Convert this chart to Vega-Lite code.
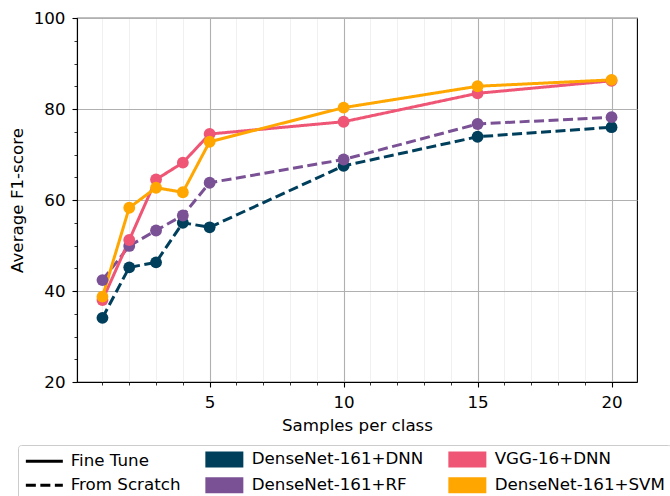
{
  "$schema": "https://vega.github.io/schema/vega-lite/v6.json",
  "width": 560,
  "height": 364,
  "autosize": {"type": "none"},
  "padding": {"left": 77, "top": 18, "right": 33, "bottom": 114},
  "background": "white",
  "config": {
    "font": "DejaVu Sans",
    "view": {"stroke": "black", "strokeWidth": 1.1},
    "axis": {
      "labelFont": "DejaVu Sans",
      "titleFont": "DejaVu Sans",
      "labelFontSize": 16.7,
      "titleFontSize": 16.7,
      "labelColor": "black",
      "titleColor": "black",
      "titleFontWeight": "normal",
      "domainColor": "black",
      "domainWidth": 1.1,
      "tickColor": "black",
      "labelPadding": 7,
      "titlePadding": 7,
      "labelFlush": false,
      "labelOverlap": false
    }
  },
  "data": {
    "values": [
      {"model": "DenseNet-161+DNN", "training": "From Scratch", "samples": 1, "f1": 34.1},
      {"model": "DenseNet-161+DNN", "training": "From Scratch", "samples": 2, "f1": 45.2},
      {"model": "DenseNet-161+DNN", "training": "From Scratch", "samples": 3, "f1": 46.3},
      {"model": "DenseNet-161+DNN", "training": "From Scratch", "samples": 4, "f1": 55.0},
      {"model": "DenseNet-161+DNN", "training": "From Scratch", "samples": 5, "f1": 54.0},
      {"model": "DenseNet-161+DNN", "training": "From Scratch", "samples": 10, "f1": 67.5},
      {"model": "DenseNet-161+DNN", "training": "From Scratch", "samples": 15, "f1": 73.9},
      {"model": "DenseNet-161+DNN", "training": "From Scratch", "samples": 20, "f1": 76.0},
      {"model": "DenseNet-161+RF", "training": "From Scratch", "samples": 1, "f1": 42.4},
      {"model": "DenseNet-161+RF", "training": "From Scratch", "samples": 2, "f1": 49.9},
      {"model": "DenseNet-161+RF", "training": "From Scratch", "samples": 3, "f1": 53.3},
      {"model": "DenseNet-161+RF", "training": "From Scratch", "samples": 4, "f1": 56.6},
      {"model": "DenseNet-161+RF", "training": "From Scratch", "samples": 5, "f1": 63.8},
      {"model": "DenseNet-161+RF", "training": "From Scratch", "samples": 10, "f1": 68.9},
      {"model": "DenseNet-161+RF", "training": "From Scratch", "samples": 15, "f1": 76.7},
      {"model": "DenseNet-161+RF", "training": "From Scratch", "samples": 20, "f1": 78.2},
      {"model": "VGG-16+DNN", "training": "Fine Tune", "samples": 1, "f1": 38.0},
      {"model": "VGG-16+DNN", "training": "Fine Tune", "samples": 2, "f1": 51.2},
      {"model": "VGG-16+DNN", "training": "Fine Tune", "samples": 3, "f1": 64.5},
      {"model": "VGG-16+DNN", "training": "Fine Tune", "samples": 4, "f1": 68.2},
      {"model": "VGG-16+DNN", "training": "Fine Tune", "samples": 5, "f1": 74.5},
      {"model": "VGG-16+DNN", "training": "Fine Tune", "samples": 10, "f1": 77.2},
      {"model": "VGG-16+DNN", "training": "Fine Tune", "samples": 15, "f1": 83.45},
      {"model": "VGG-16+DNN", "training": "Fine Tune", "samples": 20, "f1": 86.2},
      {"model": "DenseNet-161+SVM", "training": "Fine Tune", "samples": 1, "f1": 38.75},
      {"model": "DenseNet-161+SVM", "training": "Fine Tune", "samples": 2, "f1": 58.3},
      {"model": "DenseNet-161+SVM", "training": "Fine Tune", "samples": 3, "f1": 62.7},
      {"model": "DenseNet-161+SVM", "training": "Fine Tune", "samples": 4, "f1": 61.7},
      {"model": "DenseNet-161+SVM", "training": "Fine Tune", "samples": 5, "f1": 72.8},
      {"model": "DenseNet-161+SVM", "training": "Fine Tune", "samples": 10, "f1": 80.3},
      {"model": "DenseNet-161+SVM", "training": "Fine Tune", "samples": 15, "f1": 85.0},
      {"model": "DenseNet-161+SVM", "training": "Fine Tune", "samples": 20, "f1": 86.4}
    ]
  },
  "encoding": {
    "x": {
      "field": "samples",
      "type": "quantitative",
      "scale": {"domain": [0.05, 20.95], "nice": false, "zero": false},
      "axis": {
        "title": "Samples per class",
        "values": [1,2,3,4,5,6,7,8,9,10,11,12,13,14,15,16,17,18,19,20],
        "labelExpr": "datum.value % 5 === 0 ? datum.label : ''",
        "grid": true,
        "gridColor": {"condition": {"test": "datum.value % 5 === 0", "value": "#b0b0b0"}, "value": "#ececec"},
        "gridWidth": {"condition": {"test": "datum.value % 5 === 0", "value": 1.1}, "value": 0.8},
        "tickSize": {"condition": {"test": "datum.value % 5 === 0", "value": 5}, "value": 3},
        "tickWidth": {"condition": {"test": "datum.value % 5 === 0", "value": 1.1}, "value": 0.8}
      }
    },
    "y": {
      "field": "f1",
      "type": "quantitative",
      "scale": {"domain": [20, 100], "nice": false, "zero": false},
      "axis": {
        "title": "Average F1-score",
        "values": [20,25,30,35,40,45,50,55,60,65,70,75,80,85,90,95,100],
        "labelExpr": "datum.value % 20 === 0 ? datum.label : ''",
        "grid": true,
        "gridColor": "#b0b0b0",
        "gridWidth": 1.1,
        "gridOpacity": {"condition": {"test": "datum.value % 20 === 0", "value": 1}, "value": 0},
        "tickSize": {"condition": {"test": "datum.value % 20 === 0", "value": 5}, "value": 3},
        "tickWidth": {"condition": {"test": "datum.value % 20 === 0", "value": 1.1}, "value": 0.8}
      }
    },
    "color": {
      "field": "model",
      "type": "nominal",
      "scale": {
        "domain": ["Fine Tune", "From Scratch", "DenseNet-161+DNN", "DenseNet-161+RF", "VGG-16+DNN", "DenseNet-161+SVM"],
        "range": ["#000000", "#000000", "#003f5c", "#7a5195", "#ef5675", "#ffa600"]
      },
      "legend": {
        "title": null,
        "orient": "none",
        "legendX": -59,
        "legendY": 427,
        "columns": 3,
        "gridAlign": "each",
        "columnPadding": 19,
        "rowPadding": 0,
        "padding": 6,
        "strokeColor": "#cccccc",
        "fillColor": "white",
        "cornerRadius": 3,
        "symbolSize": 169,
        "labelOffset": 30,
        "labelFont": "DejaVu Sans",
        "labelFontSize": 16.7,
        "labelColor": "black",
        "labelLimit": 300,
        "encode": {
          "symbols": {
            "update": {
              "shape": {"signal": "(datum.value === 'Fine Tune' || datum.value === 'From Scratch') ? 'M-1,0L4.69,0' : 'M-1,-1L4.385,-1L4.385,1L-1,1Z'"},
              "fill": {"signal": "datum.value === 'DenseNet-161+DNN' ? '#003f5c' : datum.value === 'DenseNet-161+RF' ? '#7a5195' : datum.value === 'VGG-16+DNN' ? '#ef5675' : datum.value === 'DenseNet-161+SVM' ? '#ffa600' : 'transparent'"},
              "stroke": {"signal": "(datum.value === 'Fine Tune' || datum.value === 'From Scratch') ? 'black' : 'transparent'"},
              "strokeWidth": {"value": 3},
              "strokeDash": {"signal": "datum.value === 'From Scratch' ? [10, 4.5] : [1, 0]"},
              "size": {"value": 169},
              "opacity": {"value": 1}
            }
          }
        }
      }
    }
  },
  "layer": [
    {
      "mark": {"type": "line", "strokeWidth": 3},
      "encoding": {
        "strokeDash": {
          "field": "training",
          "type": "nominal",
          "scale": {"domain": ["Fine Tune", "From Scratch"], "range": [[1, 0], [10, 4.5]]},
          "legend": null
        }
      }
    },
    {
      "mark": {"type": "point", "filled": true, "size": 140, "opacity": 1}
    }
  ]
}
